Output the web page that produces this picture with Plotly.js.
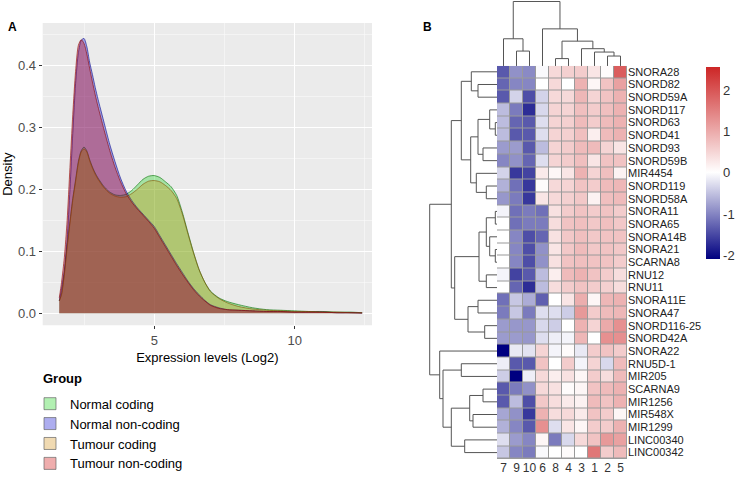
<!DOCTYPE html>
<html>
<head>
<meta charset="utf-8">
<script src="https://cdn.plot.ly/plotly-3.0.1.min.js"></script>
<style>html,body{margin:0;padding:0;background:#fff;}#chart{width:736px;height:479px;}</style>
</head>
<body>
<div id="chart"></div>
<script>
// ---------- Panel A data: density curves ----------
const exprX = [1.62,1.7,1.8,1.9,2.0,2.1,2.2,2.3,2.4,2.5,2.6,2.7,2.8,2.9,3.0,3.2,3.4,3.6,3.8,4.0,4.2,4.4,4.6,4.8,5.0,5.2,5.4,5.6,5.8,6.0,6.2,6.4,6.6,6.8,7.0,7.3,7.6,8.0,8.5,9.0,9.5,10.0,10.5,11.0,11.5,12.0,12.4];
const normalCoding = [0.02,0.031,0.065,0.11,0.148,0.185,0.215,0.245,0.262,0.268,0.262,0.248,0.236,0.226,0.218,0.205,0.196,0.191,0.19,0.192,0.198,0.207,0.216,0.221,0.222,0.219,0.212,0.204,0.19,0.163,0.13,0.098,0.07,0.05,0.036,0.025,0.019,0.014,0.009,0.006,0.005,0.004,0.003,0.003,0.002,0.002,0.001];
const normalNonCoding = [0.02,0.04,0.07,0.12,0.2,0.29,0.37,0.42,0.44,0.443,0.43,0.405,0.385,0.364,0.345,0.31,0.275,0.245,0.218,0.197,0.182,0.17,0.16,0.15,0.14,0.125,0.11,0.095,0.08,0.066,0.052,0.04,0.03,0.021,0.014,0.009,0.006,0.005,0.004,0.003,0.003,0.002,0.002,0.002,0.001,0.001,0.0005];
const tumourCoding = [0.02,0.03,0.062,0.105,0.145,0.182,0.212,0.242,0.26,0.265,0.26,0.246,0.234,0.224,0.216,0.203,0.194,0.189,0.187,0.188,0.193,0.2,0.208,0.213,0.214,0.212,0.206,0.198,0.185,0.16,0.128,0.097,0.07,0.05,0.035,0.024,0.017,0.011,0.007,0.005,0.004,0.003,0.003,0.002,0.002,0.001,0.001];
const tumourNonCoding = [0.025,0.05,0.09,0.15,0.235,0.32,0.39,0.432,0.441,0.435,0.418,0.395,0.373,0.352,0.333,0.298,0.265,0.236,0.212,0.193,0.179,0.168,0.158,0.148,0.137,0.122,0.107,0.092,0.077,0.063,0.05,0.038,0.028,0.02,0.013,0.008,0.006,0.005,0.004,0.003,0.003,0.002,0.002,0.002,0.001,0.001,0.0005];
const groupNames = ['Normal coding','Normal non-coding','Tumour coding','Tumour non-coding'];

// ---------- Panel B data: heatmap ----------
const colLabels = ['7','9','10','6','8','4','3','1','2','5'];
const rowLabels = ['SNORA28','SNORD82','SNORD59A','SNORD117','SNORD63','SNORD41','SNORD93','SNORD59B','MIR4454','SNORD119','SNORD58A','SNORA11','SNORA65','SNORA14B','SNORA21','SCARNA8','RNU12','RNU11','SNORA11E','SNORA47','SNORD116-25','SNORD42A','SNORA22','RNU5D-1','MIR205','SCARNA9','MIR1256','MIR548X','MIR1299','LINC00340','LINC00342'];
const heatValues = [
 [-1.37,-0.91,-0.96,-0.05,0.45,0.55,0.6,0.3,0.05,1.9],
 [-1.27,-1.0,-1.0,0.0,0.45,0.0,0.9,0.1,0.7,1.1],
 [-1.37,-0.36,-1.46,-0.36,0.45,0.45,0.85,0.5,0.7,0.9],
 [-0.55,-1.09,-1.73,-0.32,0.5,0.5,0.75,0.6,0.75,0.9],
 [-0.55,-1.27,-1.37,-0.27,0.5,0.55,0.8,0.6,0.8,0.9],
 [-0.55,-1.37,-1.37,-0.27,0.5,0.55,0.75,0.2,0.8,0.9],
 [-0.82,-0.82,-1.37,-0.55,0.5,0.6,0.8,0.8,0.5,0.3],
 [-1.0,-0.91,-1.27,-0.27,0.5,0.6,0.75,0.3,0.7,0.7],
 [-0.36,-1.64,-1.55,0.25,0.1,0.3,0.9,0.5,0.75,0.15],
 [-0.64,-1.18,-1.64,0.05,0.45,0.5,0.7,0.6,0.8,0.85],
 [-0.86,-1.09,-1.64,0.3,0.45,0.55,0.65,0.15,0.75,0.8],
 [-0.09,-1.18,-1.09,-1.18,0.35,0.6,0.7,0.6,0.7,0.6],
 [0.0,-1.18,-1.09,-1.09,0.4,0.7,0.75,0.65,0.75,0.65],
 [0.0,-1.0,-1.46,-1.27,0.35,0.65,0.75,0.65,0.7,0.7],
 [0.0,-1.0,-1.46,-0.91,0.3,0.65,0.8,0.65,0.7,0.65],
 [0.0,-1.0,-1.46,-0.91,0.35,0.7,0.75,0.7,0.7,0.6],
 [-0.09,-1.55,-1.37,-0.55,0.2,0.8,0.9,0.7,0.6,0.4],
 [0.0,-1.27,-1.73,-0.55,0.4,0.6,0.7,0.6,0.55,0.4],
 [-1.18,-0.46,-0.68,-1.32,0.0,0.3,0.95,0.1,0.85,0.9],
 [-1.09,-0.46,-1.09,-0.27,-0.27,-0.41,1.2,0.6,0.8,0.85],
 [-0.82,-0.86,-0.86,-0.32,-0.41,0.0,0.9,0.5,1.0,1.3],
 [-0.82,-0.82,-0.86,-0.27,-0.14,-0.09,0.85,0.0,1.3,1.3],
 [-2.1,-0.18,-0.23,0.5,-0.09,0.05,-0.18,0.6,0.7,0.6],
 [-0.14,-1.37,-1.37,0.7,0.0,0.6,-0.09,0.5,-0.32,0.8],
 [-0.41,-2.1,-0.14,0.45,0.2,0.35,0.1,0.6,0.4,0.8],
 [-1.37,-1.09,-0.91,0.45,0.35,0.05,0.1,0.7,0.8,0.9],
 [-1.37,-0.55,-1.46,0.65,0.4,0.25,0.15,0.8,0.7,0.9],
 [-0.73,-0.91,-1.64,0.9,0.4,0.45,0.25,0.7,0.6,0.1],
 [-0.64,-1.0,-1.37,1.3,-0.27,0.3,0.1,0.6,0.6,0.9],
 [-0.27,-0.82,-1.0,0.1,-1.09,-0.32,0.45,0.7,1.2,1.1],
 [-0.46,-1.0,-1.09,-0.05,0.0,0.05,0.0,1.6,0.6,0.8]
];
// hclust-style merges: negative = leaf (display position, 1-based), positive = earlier merge; third = height
const rowMerges = [
 [-2,-3,19],[-1,1,25.7],[-5,-6,1.7],[-4,3,7.3],[-7,-8,14],[4,5,19],[-10,-11,10.7],[-9,7,20.7],[6,8,26.3],[2,9,35.7],
 [-12,-13,1.7],[-15,-16,1.7],[-14,12,7.3],[11,13,10.7],[-17,-18,10.7],[14,15,18],[-19,-20,19],[-21,-22,12.3],[17,18,29],[16,19,42.3],
 [10,20,45.7],[-24,-25,35.7],[-26,-27,14],[-28,-29,24],[23,24,27.3],[-30,-31,32.3],[25,26,45.7],[22,27,54],[-23,28,57.3],[21,29,67.3]
];
const colMerges = [
 [-2,-3,15],[-1,1,27.4],[-5,-6,7.4],[-9,-10,10],[-8,4,14],[-7,5,17.4],[3,6,25],[-4,7,37.4],[2,8,65]
];

function dendroLines(merges){
  const nodes=[], p=[], h=[];
  const info = id => id<0 ? {p:-id-1,h:0} : nodes[id-1];
  merges.forEach(m=>{
    const A=info(m[0]), B=info(m[1]);
    p.push(A.p,A.p,B.p,B.p,null); h.push(A.h,m[2],m[2],B.h,null);
    nodes.push({p:(A.p+B.p)/2,h:m[2]});
  });
  return {p,h};
}

const W=736,H=479;
const px = v=>v/W, py = v=>1-v/H;
const font = 'Liberation Sans, Arial, Helvetica, sans-serif';

const fills = ['rgba(0,205,0,0.3)','rgba(0,0,205,0.32)','rgba(205,133,0,0.3)','rgba(205,0,0,0.32)'];
const lines = ['rgba(0,110,0,0.75)','rgba(0,0,140,0.75)','rgba(130,80,0,0.75)','rgba(140,0,0,0.75)'];
const series = [normalCoding, normalNonCoding, tumourCoding, tumourNonCoding];

const traces = [];
series.forEach((ys,i)=>{
  traces.push({type:'scatter',mode:'lines',x:exprX,y:ys,fill:'tozeroy',fillcolor:fills[i],
    line:{color:lines[i],width:0.8,shape:'spline',smoothing:0.7},name:groupNames[i],showlegend:false,
    xaxis:'x',yaxis:'y',hoverinfo:'skip'});
});
// legend keys
series.forEach((ys,i)=>{
  traces.push({type:'bar',x:[null],y:[null],name:groupNames[i],marker:{color:fills[i],line:{color:'rgba(90,90,90,0.8)',width:0.8}},
    xaxis:'x',yaxis:'y',showlegend:true,hoverinfo:'skip'});
});

const zmin=-2.1, zmax=2.55;
const wpos = (0-zmin)/(zmax-zmin);
traces.push({type:'heatmap',z:heatValues,x:colLabels,y:rowLabels,xaxis:'x2',yaxis:'y2',
  zmin:zmin,zmax:zmax,xgap:1,ygap:1,
  colorscale:[[0,'#000080'],[wpos,'#FFFFFF'],[1,'#CD2626']],
  colorbar:{x:px(706),xanchor:'left',xpad:0,ypad:0,y:py(68),yanchor:'top',lenmode:'pixels',len:192,
    thicknessmode:'pixels',thickness:14,outlinewidth:0,ticks:'',tickvals:[-2,-1,0,1,2],ticktext:['-2','-1','0','1','2'],
    tickfont:{family:font,size:13,color:'#333'}},
  hoverinfo:'skip'});

const cd = dendroLines(colMerges);
traces.push({type:'scatter',mode:'lines',x:cd.p,y:cd.h,xaxis:'x3',yaxis:'y3',line:{color:'#555',width:1},showlegend:false,hoverinfo:'skip'});
const rd = dendroLines(rowMerges);
traces.push({type:'scatter',mode:'lines',x:rd.h,y:rd.p,xaxis:'x4',yaxis:'y4',line:{color:'#555',width:1},showlegend:false,hoverinfo:'skip'});

const hmX=[px(497),px(627)], hmY=[py(462.8),py(66)];
const hidden = {visible:false,fixedrange:true,showgrid:false,zeroline:false};

const layout = {
  width:W,height:H,margin:{l:0,r:0,t:0,b:0},paper_bgcolor:'#fff',plot_bgcolor:'#fff',
  font:{family:font,color:'#000'},
  showlegend:true,barmode:'overlay',
  legend:{x:px(30),y:py(392),xanchor:'left',yanchor:'top',bgcolor:'rgba(0,0,0,0)',borderwidth:0,
    font:{family:font,size:13,color:'#000'},tracegroupgap:0,itemclick:false},
  xaxis:{domain:[px(42.7),px(372)],range:[1.03,12.75],anchor:'y',tick0:0,dtick:5,showgrid:true,gridcolor:'#fff',gridwidth:1.2,
    minor:{dtick:2.5,tick0:0,showgrid:true,gridcolor:'#fafafa',gridwidth:0.6,ticks:''},
    zeroline:false,showline:false,ticks:'outside',ticklen:3,tickcolor:'#333',tickfont:{size:13,color:'#4D4D4D'},
    title:{text:'Expression levels (Log2)',font:{size:13,color:'#000'},standoff:6}},
  yaxis:{domain:[py(328),py(23.3)],range:[-0.0192,0.4677],anchor:'x',dtick:0.1,tick0:0,tickformat:'.1f',showgrid:true,gridcolor:'#fff',gridwidth:1.2,
    minor:{dtick:0.05,tick0:0,showgrid:true,gridcolor:'#fafafa',gridwidth:0.6,ticks:''},
    zeroline:false,showline:false,ticks:'outside',ticklen:3,tickcolor:'#333',tickfont:{size:13,color:'#4D4D4D'},
    title:{text:'Density',font:{size:13,color:'#000'},standoff:8}},
  xaxis2:{domain:hmX,anchor:'y2',type:'category',range:[-0.5,9.5],showgrid:false,zeroline:false,ticks:'',side:'bottom',
    tickmode:'array',tickvals:colLabels,ticktext:colLabels,tickfont:{size:12,color:'#333'},fixedrange:true},
  yaxis2:{domain:hmY,anchor:'x2',type:'category',range:[30.5,-0.5],showgrid:false,zeroline:false,ticks:'',side:'right',
    tickmode:'array',tickvals:rowLabels,ticktext:rowLabels,tickfont:{size:11,color:'#222'},fixedrange:true},
  xaxis3:Object.assign({domain:hmX,anchor:'y3',range:[-0.5,9.5]},hidden),
  yaxis3:Object.assign({domain:[py(66.5),py(1)],anchor:'x3',range:[0,65.5]},hidden),
  xaxis4:Object.assign({domain:[px(429),px(497)],anchor:'y4',range:[68,0]},hidden),
  yaxis4:Object.assign({domain:hmY,anchor:'x4',range:[30.5,-0.5]},hidden),
  shapes:[
    {type:'rect',xref:'x domain',yref:'y domain',x0:0,x1:1,y0:0,y1:1,fillcolor:'#EBEBEB',line:{width:0},layer:'below'},
    {type:'rect',xref:'x2 domain',yref:'y2 domain',x0:0,x1:1,y0:0,y1:1,fillcolor:'#9a9a9a',line:{width:0},layer:'below'}
  ],
  annotations:[
    {text:'<b>A</b>',xref:'paper',yref:'paper',x:px(6),y:py(27),xanchor:'left',yanchor:'middle',showarrow:false,font:{size:12,color:'#000'}},
    {text:'<b>B</b>',xref:'paper',yref:'paper',x:px(421),y:py(27),xanchor:'left',yanchor:'middle',showarrow:false,font:{size:12,color:'#000'}},
    {text:'<b>Group</b>',xref:'paper',yref:'paper',x:px(41),y:py(382),xanchor:'left',yanchor:'middle',showarrow:false,font:{size:13,color:'#000'}}
  ]
};

Plotly.newPlot('chart',traces,layout,{displayModeBar:false,staticPlot:true});
</script>
</body>
</html>
